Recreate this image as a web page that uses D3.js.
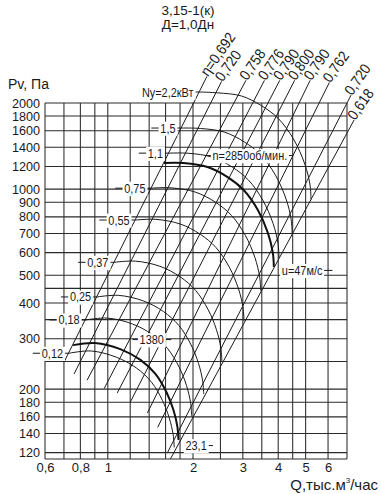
<!DOCTYPE html>
<html><head><meta charset="utf-8">
<script src="https://cdn.jsdelivr.net/npm/d3@7"></script>
<style>body{margin:0;background:#fff} svg{display:block}</style>
</head><body>
<svg id="c" width="381" height="494"></svg>
<script>
// ---- data ----
const titleLines = ["3,15-1(к)", "Д=1,0Дн"];
const xTicks = [0.6, 0.8, 1, 2, 3, 4, 5, 6];
const xTickLabels = ["0,6", "0,8", "1", "2", "3", "4", "5", "6"];
const xGrid = [0.6, 0.7, 0.8, 0.9, 1, 1.2, 1.4, 1.6, 1.8, 2, 2.5, 3, 3.5, 4, 4.5, 5, 6, 7];
const yTicks = [2000, 1800, 1600, 1400, 1200, 1000, 900, 800, 700, 600, 500, 400, 300, 200, 180, 160, 140, 120];
const yGrid = [2000, 1800, 1600, 1400, 1200, 1000, 900, 800, 700, 600, 500, 450, 400, 350, 300, 250, 200, 180, 160, 140, 120];
// efficiency rays: each a straight line in log-log between a top point and a bottom point
const rayLabels = ["η=0,692", "0,720", "0,758", "0,776", "0,790", "0,800", "0,790", "0,762", "0,720", "0,618"];
const rayTopQ = [2.01, 2.31, 2.79, 3.25, 3.68, 4.16, 4.74, 5.58, 7.0, 7.0];
const rayTopP = [2000, 2000, 2000, 2000, 2000, 2000, 2000, 2000, 2000, 1570];
const rayBotQ = [0.701, 0.760, 0.845, 0.971, 1.08, 1.20, 1.38, 1.50, 1.625, 1.664];
const rayBotP = [249, 226, 215, 201, 194, 180, 165, 147, 120, 114];
const rayEndP = [2480, 2380, 2400, 2400, 2400, 2400, 2400, 2360, 2130, 1745];
// bold fan curves
const boldLabels = ["n=2850об/мин.", "1380"];
const curve2850Q = [1.58, 1.85, 2.25, 2.65, 3.02, 3.39, 3.68, 3.83, 3.86];
const curve2850P = [1234, 1234, 1195, 1102, 993, 845, 702, 598, 535];
const curve1380Q = [0.754, 0.902, 1.107, 1.304, 1.473, 1.612, 1.706, 1.763, 1.777];
const curve1380P = [285, 290, 276, 253, 226, 195, 169, 147, 133];
const speedLabels = ["u=47м/с", "23,1"];
// thin curves (installed power, kW), given by their pressure at the left ray
const arcLabels = ["Ny=2,2кВт", "1,5", "1,1", "0,75", "0,55", "0,37", "0,25", "0,18", "0,12"];
const arcStartP = [2185, 1635, 1336, 1008, 780, 555, 420, 349, 267];

// ---- chart ----
const svg = d3.select("#c");
const x = d3.scaleLog().domain([0.6, 7]).range([45, 347]);
const y = d3.scaleLog().domain([2000, 114]).range([103, 459]);
const FONT = "'Liberation Sans', Arial, sans-serif";
const INK = "#1a1a1a";

// title
svg.selectAll("text.title").data(titleLines).join("text")
  .attr("x", 188).attr("y", (d, i) => 15 + i * 14)
  .attr("text-anchor", "middle").attr("font-family", FONT).attr("font-size", 13.5).attr("fill", INK).text(d => d);
svg.append("text").attr("x", 8).attr("y", 89).attr("font-family", FONT).attr("font-size", 14).attr("fill", INK).text("Pv, Па");

// grid
const g = svg.append("g").attr("stroke", "#2a2a2a").attr("stroke-width", 1.05).attr("fill", "none");
g.selectAll("line.v").data(xGrid).join("line")
  .attr("x1", d => x(d)).attr("x2", d => x(d)).attr("y1", y(2000)).attr("y2", 459);
g.selectAll("line.h").data(yGrid).join("line")
  .attr("x1", 45).attr("x2", x(7)).attr("y1", d => y(d)).attr("y2", d => y(d));
g.append("line").attr("x1", 45).attr("x2", x(7)).attr("y1", 459).attr("y2", 459);

// axes tick labels
const yAxis = d3.axisLeft(y).tickValues(yTicks).tickSize(0).tickPadding(5).tickFormat(d => d);
svg.append("g").attr("transform", "translate(45,0)").call(yAxis)
  .call(a => a.select(".domain").remove())
  .call(a => a.selectAll("text").attr("font-family", FONT).attr("font-size", 12.6).attr("fill", INK));
const xAxis = d3.axisBottom(x).tickValues(xTicks).tickSize(0).tickPadding(4).tickFormat((d, i) => xTickLabels[i]);
svg.append("g").attr("transform", "translate(0,459)").call(xAxis)
  .call(a => a.select(".domain").remove())
  .call(a => a.selectAll("text").attr("font-family", FONT).attr("font-size", 13).attr("fill", INK));
const xl = svg.append("text").attr("x", 378).attr("y", 490).attr("text-anchor", "end")
  .attr("font-family", FONT).attr("font-size", 15).attr("fill", INK);
xl.append("tspan").text("Q,тыс.м");
xl.append("tspan").attr("font-size", 8).attr("dy", -7).text("3");
xl.append("tspan").attr("dy", 7).text("/час");

// helper: condensed text, optional white box
function ctext(parent, txt, px, py, anchor, size, rot, box, sx) {
  sx = sx || 0.84;
  const gg = parent.append("g").attr("transform", `translate(${px},${py}) rotate(${rot}) scale(${sx},1)`);
  const t = gg.append("text").attr("text-anchor", anchor).attr("font-family", FONT)
    .attr("font-size", size).attr("fill", INK).text(txt);
  const bb = t.node().getBBox();
  if (box) gg.insert("rect", "text").attr("x", bb.x - 2).attr("y", bb.y + 1).attr("width", bb.width + 4)
    .attr("height", bb.height - 1).attr("fill", "#fff");
  return {x0: px + bb.x * sx, x1: px + (bb.x + bb.width) * sx};
}

// rays (extended in log space up to their label end)
const rays = rayLabels.map((lbl, i) => {
  const lq0 = Math.log10(rayBotQ[i]), lp0 = Math.log10(rayBotP[i]);
  const lq1 = Math.log10(rayTopQ[i]), lp1 = Math.log10(rayTopP[i]);
  const lpe = Math.log10(rayEndP[i]);
  const qe = Math.pow(10, lq0 + (lq1 - lq0) * (lpe - lp0) / (lp1 - lp0));
  return {lbl, x0: x(rayBotQ[i]), y0: y(rayBotP[i]), x1: x(qe), y1: y(rayEndP[i])};
});
svg.append("g").selectAll("line").data(rays).join("line")
  .attr("x1", d => d.x0).attr("y1", d => d.y0).attr("x2", d => d.x1).attr("y2", d => d.y1)
  .attr("stroke", INK).attr("stroke-width", 1);
const rl = svg.append("g");
rays.forEach(d => ctext(rl, d.lbl, d.x1 + 1, d.y1 + 1, "start", 15, -55, false, 0.9));

// curves
const b2850 = curve2850Q.map((q, i) => [Math.log10(q), Math.log10(curve2850P[i])]);
const b1380 = curve1380Q.map((q, i) => [Math.log10(q), Math.log10(curve1380P[i])]);
const famPts = (p0) => {
  const t = (Math.log10(p0) - b1380[0][1]) / (b2850[0][1] - b1380[0][1]);
  return b1380.map((a, i) => [x(Math.pow(10, a[0] + t * (b2850[i][0] - a[0]))),
                              y(Math.pow(10, a[1] + t * (b2850[i][1] - a[1])))]);
};
const line = d3.line().curve(d3.curveCatmullRom.alpha(0.5));
svg.append("g").selectAll("path").data(arcStartP).join("path")
  .attr("d", d => line(famPts(d))).attr("fill", "none").attr("stroke", INK).attr("stroke-width", 1);
const bold = [curve2850Q.map((q, i) => [x(q), y(curve2850P[i])]), curve1380Q.map((q, i) => [x(q), y(curve1380P[i])])];
svg.append("g").selectAll("path").data(bold).join("path")
  .attr("d", d => line(d)).attr("fill", "none").attr("stroke", "#111").attr("stroke-width", 2);

// arc labels with short leaders
const lab = svg.append("g");
arcStartP.forEach((p, i) => {
  const p0 = famPts(p)[0];
  const ln = lab.append("line").attr("y1", p0[1]).attr("y2", p0[1]).attr("x2", p0[0]).attr("stroke", INK);
  const r = ctext(lab, arcLabels[i], p0[0] - 6, p0[1] + 4.5, "end", 13, 0, true);
  ln.attr("x1", i === 0 ? r.x1 : r.x0 - 9);
});
function leaderLabel(txt, px, py, anchor, left, right) {
  const ln = lab.append("line").attr("y1", py).attr("y2", py).attr("stroke", INK);
  const r = ctext(lab, txt, px, py + 4.5, anchor, 13, 0, true);
  ln.attr("x1", r.x0 - left).attr("x2", r.x1 + right);
}
leaderLabel(boldLabels[0], bold[0][2][0] + 5, y(1310), "start", 7, 6);
leaderLabel(boldLabels[1], x(1.43), y(298), "middle", 7, 7);
leaderLabel(speedLabels[0], bold[0][8][0] + 8, y(520), "start", 0, 10);
leaderLabel(speedLabels[1], bold[1][8][0] + 7, y(127), "start", 0, 6);
</script>
</body></html>
